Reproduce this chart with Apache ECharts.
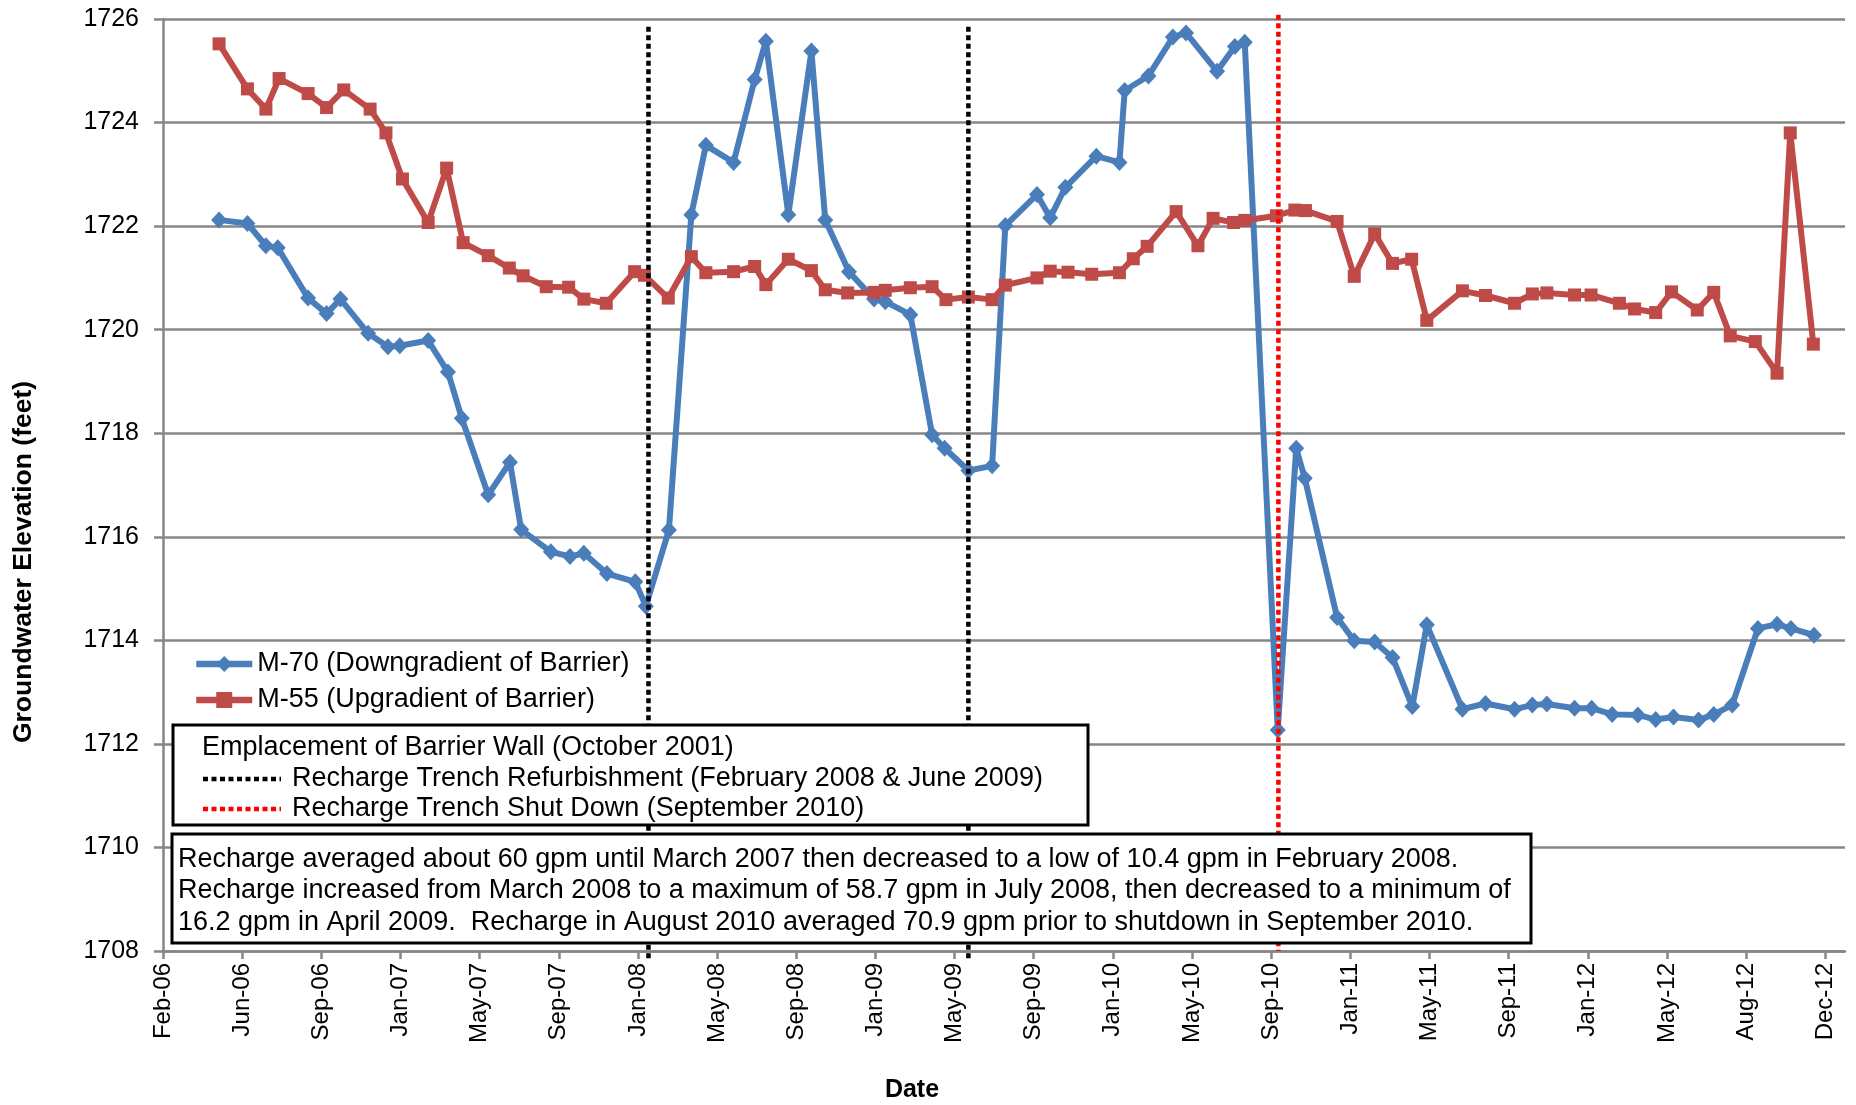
<!DOCTYPE html>
<html><head><meta charset="utf-8">
<script src="https://cdn.jsdelivr.net/npm/echarts@6/dist/echarts.min.js"></script>
<style>html,body{margin:0;padding:0;background:#fff}#chart{width:1856px;height:1105px}</style>
</head><body><div id="chart"></div>
<script>
// ---------- data ----------
const xTickLabels = ['Feb-06','Jun-06','Sep-06','Jan-07','May-07','Sep-07','Jan-08','May-08','Sep-08','Jan-09','May-09','Sep-09','Jan-10','May-10','Sep-10','Jan-11','May-11','Sep-11','Jan-12','May-12','Aug-12','Dec-12'];
const xAxisStart = '2006-02-02';
const xAxisEnd = '2013-01-26';
const xTickStepDays = 120;
const yMin = 1708, yMax = 1726, yStep = 2;

const m70Name = 'M-70 (Downgradient of Barrier)';
const m70Dates = ['2006-04-28','2006-06-10','2006-07-08','2006-07-26','2006-09-10','2006-10-08','2006-10-29','2006-12-10','2007-01-09','2007-01-27','2007-03-11','2007-04-10','2007-05-01','2007-06-10','2007-07-13','2007-07-30','2007-09-13','2007-10-12','2007-11-02','2007-12-07','2008-01-19','2008-02-04','2008-03-10','2008-04-13','2008-05-05','2008-06-16','2008-07-18','2008-08-04','2008-09-07','2008-10-12','2008-11-02','2008-12-08','2009-01-15','2009-02-01','2009-03-11','2009-04-13','2009-05-02','2009-06-07','2009-07-13','2009-08-02','2009-09-19','2009-10-09','2009-11-01','2009-12-18','2010-01-22','2010-01-30','2010-03-07','2010-04-13','2010-05-03','2010-06-19','2010-07-16','2010-07-31','2010-09-19','2010-10-17','2010-10-30','2010-12-18','2011-01-13','2011-02-13','2011-03-12','2011-04-11','2011-05-03','2011-06-26','2011-07-31','2011-09-13','2011-10-10','2011-11-01','2011-12-13','2012-01-08','2012-02-08','2012-03-18','2012-04-14','2012-05-11','2012-06-18','2012-07-11','2012-08-08','2012-09-16','2012-10-15','2012-11-05','2012-12-10'];
const m70Values = [1722.12,1722.05,1721.62,1721.58,1720.61,1720.31,1720.59,1719.93,1719.67,1719.69,1719.79,1719.18,1718.29,1716.81,1717.44,1716.14,1715.71,1715.62,1715.68,1715.29,1715.13,1714.66,1716.13,1722.22,1723.56,1723.23,1724.83,1725.57,1722.22,1725.38,1722.12,1721.12,1720.59,1720.54,1720.29,1717.97,1717.71,1717.28,1717.37,1722.01,1722.61,1722.16,1722.75,1723.35,1723.23,1724.62,1724.90,1725.65,1725.73,1724.99,1725.47,1725.55,1712.27,1717.71,1717.13,1714.44,1713.99,1713.97,1713.67,1712.72,1714.30,1712.67,1712.78,1712.67,1712.75,1712.77,1712.69,1712.69,1712.57,1712.56,1712.47,1712.52,1712.46,1712.57,1712.75,1714.23,1714.31,1714.23,1714.10];

const m55Name = 'M-55 (Upgradient of Barrier)';
const m55Dates = ['2006-04-28','2006-06-10','2006-07-08','2006-07-28','2006-09-10','2006-10-08','2006-11-03','2006-12-13','2007-01-06','2007-01-31','2007-03-11','2007-04-08','2007-05-03','2007-06-10','2007-07-12','2007-08-02','2007-09-06','2007-10-10','2007-11-02','2007-12-06','2008-01-18','2008-02-02','2008-03-09','2008-04-13','2008-05-05','2008-06-16','2008-07-18','2008-08-04','2008-09-07','2008-10-12','2008-11-02','2008-12-06','2009-01-15','2009-02-01','2009-03-11','2009-04-13','2009-05-04','2009-06-07','2009-07-13','2009-08-02','2009-09-19','2009-10-09','2009-11-05','2009-12-11','2010-01-22','2010-02-12','2010-03-05','2010-04-18','2010-05-21','2010-06-13','2010-07-14','2010-07-31','2010-09-17','2010-10-15','2010-10-31','2010-12-18','2011-01-13','2011-02-13','2011-03-12','2011-04-10','2011-05-03','2011-06-26','2011-07-31','2011-09-13','2011-10-10','2011-11-01','2011-12-13','2012-01-07','2012-02-19','2012-03-13','2012-04-14','2012-05-08','2012-06-16','2012-07-11','2012-08-05','2012-09-12','2012-10-15','2012-11-04','2012-12-09'];
const m55Values = [1725.52,1724.65,1724.26,1724.85,1724.56,1724.29,1724.63,1724.26,1723.80,1722.91,1722.07,1723.12,1721.68,1721.43,1721.19,1721.04,1720.83,1720.82,1720.59,1720.51,1721.12,1721.05,1720.61,1721.41,1721.10,1721.12,1721.22,1720.87,1721.36,1721.14,1720.77,1720.71,1720.72,1720.76,1720.81,1720.83,1720.58,1720.63,1720.58,1720.86,1721.00,1721.13,1721.11,1721.07,1721.10,1721.37,1721.61,1722.28,1721.62,1722.15,1722.07,1722.11,1722.20,1722.31,1722.30,1722.09,1721.03,1721.85,1721.28,1721.36,1720.18,1720.75,1720.66,1720.51,1720.69,1720.71,1720.67,1720.67,1720.51,1720.40,1720.33,1720.73,1720.38,1720.72,1719.88,1719.77,1719.16,1723.80,1719.72];

const refurbDates = ['2008-02-08','2009-06-07'];
const refurbSpan = [1725.85, 1707.85];
const shutdownDates = ['2010-09-20'];
const shutdownSpan = [1726.08, 1708];

const keyLabels = ['Emplacement of Barrier Wall (October 2001)','Recharge Trench Refurbishment (February 2008 & June 2009)','Recharge Trench Shut Down (September 2010)'];
const noteLines = ['Recharge averaged about 60 gpm until March 2007 then decreased to a low of 10.4 gpm in February 2008.','Recharge increased from March 2008 to a maximum of 58.7 gpm in July 2008, then decreased to a minimum of','16.2 gpm in April 2009.  Recharge in August 2010 averaged 70.9 gpm prior to shutdown in September 2010.'];
const xAxisTitle = 'Date';
const yAxisTitle = 'Groundwater Elevation (feet)';

// ---------- helpers ----------
const t0 = Date.parse(xAxisStart + 'T00:00:00Z');
const dayOf = s => (Date.parse(s + 'T00:00:00Z') - t0) / 86400000;
const pairs = (dates, vals) => dates.map((d, i) => [dayOf(d), vals[i]]);
const tickDays = xTickLabels.map((_, i) => i * xTickStepDays);
const FONT = 'Liberation Sans, Arial, sans-serif';
const GRAY = '#868686';
const BLUE = '#4a7ebb';
const RED = '#be4b48';
const TXT = '27px ' + FONT;

const vLine = (dates, span, color, name) => dates.map(d => ({
  type: 'line', name: name, data: [[dayOf(d), span[0]], [dayOf(d), span[1]]],
  symbol: 'none', clip: false, silent: true, z: 6,
  lineStyle: { color: color, width: 4.5, type: [5, 3.5] }
}));
const txt = (x, y, s, extra) => Object.assign({ type: 'text', z: 101, x: x, y: y,
  style: { text: s, font: TXT, fill: '#000', verticalAlign: 'middle', textVerticalAlign: 'middle' } }, extra || {});

const chart = echarts.init(document.getElementById('chart'), null, { renderer: 'canvas' });
const option = {
  animation: false,
  backgroundColor: '#fff',
  grid: { left: 163, right: 11, top: 19, bottom: 154, containLabel: false },
  xAxis: {
    type: 'value', min: 0, max: dayOf(xAxisEnd),
    axisLine: { show: true, lineStyle: { color: GRAY, width: 2.5 } },
    axisTick: { show: true, customValues: tickDays, length: 8, lineStyle: { color: GRAY, width: 2.5 } },
    axisLabel: { customValues: tickDays, rotate: 90, margin: 12, fontSize: 24, fontFamily: FONT, color: '#000',
      formatter: v => xTickLabels[Math.round(v / xTickStepDays)] || '' },
    splitLine: { show: false }
  },
  yAxis: {
    type: 'value', min: yMin, max: yMax, interval: yStep,
    axisLine: { show: true, lineStyle: { color: GRAY, width: 2.5 } },
    axisTick: { show: true, length: 9, lineStyle: { color: GRAY, width: 2.5 } },
    axisLabel: { margin: 24, fontSize: 25, fontFamily: FONT, color: '#000', formatter: v => String(v) },
    splitLine: { show: true, lineStyle: { color: GRAY, width: 2.5 } }
  },
  legend: {
    data: [m70Name, m55Name], orient: 'vertical', left: 193, top: 649,
    itemWidth: 56, itemHeight: 20, itemGap: 6, padding: 0,
    lineStyle: { width: 6.5 },
    textStyle: { fontSize: 27, fontFamily: FONT, color: '#000', lineHeight: 30 }
  },
  series: [
    { type: 'line', name: m70Name, data: pairs(m70Dates, m70Values), z: 3,
      symbol: 'diamond', symbolSize: [16, 17], color: BLUE,
      lineStyle: { color: BLUE, width: 6 }, itemStyle: { color: BLUE, borderWidth: 0 } },
    { type: 'line', name: m55Name, data: pairs(m55Dates, m55Values), z: 4,
      symbol: 'rect', symbolSize: 13, color: RED,
      lineStyle: { color: RED, width: 6 }, itemStyle: { color: RED, borderWidth: 0 } },
    ...vLine(refurbDates, refurbSpan, '#000', 'refurb'),
    ...vLine(shutdownDates, shutdownSpan, '#ff0000', 'shutdown')
  ],
  graphic: { elements: [
    { type: 'rect', z: 100, shape: { x: 173, y: 725, width: 915, height: 100 },
      style: { fill: '#fff', stroke: '#000', lineWidth: 3 } },
    txt(202, 748, keyLabels[0]),
    { type: 'line', z: 101, shape: { x1: 203, y1: 779, x2: 281, y2: 779 }, style: { stroke: '#000', lineWidth: 4.5, lineDash: [5, 3.5] } },
    txt(292, 779, keyLabels[1]),
    { type: 'line', z: 101, shape: { x1: 203, y1: 809, x2: 281, y2: 809 }, style: { stroke: '#ff0000', lineWidth: 4.5, lineDash: [5, 3.5] } },
    txt(292, 809, keyLabels[2]),
    { type: 'rect', z: 100, shape: { x: 172, y: 834, width: 1359, height: 109 },
      style: { fill: '#fff', stroke: '#000', lineWidth: 3 } },
    txt(178, 860, noteLines[0]),
    txt(178, 891, noteLines[1]),
    txt(178, 923, noteLines[2]),
    { type: 'text', z: 101, x: 912, y: 1090, style: { text: xAxisTitle, font: 'bold 25px ' + FONT, fill: '#000', align: 'center', textAlign: 'center', verticalAlign: 'middle', textVerticalAlign: 'middle' } },
    { type: 'text', z: 101, x: 24, y: 562, rotation: Math.PI / 2, style: { text: yAxisTitle, font: 'bold 26.5px ' + FONT, fill: '#000', align: 'center', textAlign: 'center', verticalAlign: 'middle', textVerticalAlign: 'middle' } }
  ] }
};
chart.setOption(option);
</script></body></html>
